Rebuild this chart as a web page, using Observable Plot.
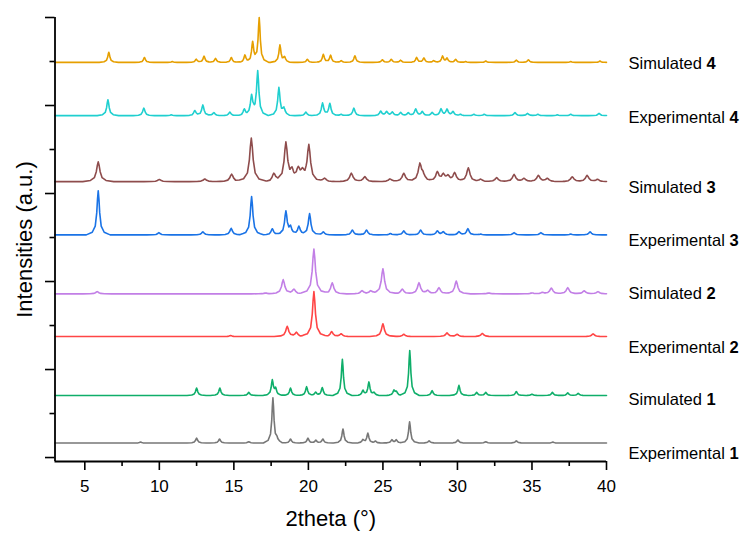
<!DOCTYPE html>
<html>
<head>
<meta charset="utf-8">
<script src="https://cdn.jsdelivr.net/npm/d3@7"></script>
<script src="https://cdn.jsdelivr.net/npm/@observablehq/plot@0.6"></script>
<style>
  html, body { margin: 0; padding: 0; background: #fff; }
  #chart svg { display: block; }
</style>
</head>
<body>
<div id="chart"></div>
<script>
// Peak lists: [2θ (°), relative intensity]
const exp1Peaks = [[8.74,2],[12.5,11],[14.04,9],[16.0,3],[17.62,102],[17.9,6],[18.8,9],[19.97,11],[20.5,6],[20.97,9],[22.32,32],[23.66,7],[23.99,22],[24.5,4],[25.6,7],[25.9,7],[26.79,48],[28.1,5],[30.03,7],[31.9,3],[33.95,5],[36.4,2]];
const sim1Peaks = [[12.5,17],[14.06,17],[16.0,7],[17.58,34],[17.8,14],[18.8,17],[19.88,20],[20.49,7],[20.93,18],[22.28,82],[23.66,11],[24.06,30],[24.4,6],[25.74,11],[25.9,8],[26.8,102],[28.3,11],[30.1,23],[31.29,7],[31.9,7],[33.95,9],[35.0,3],[36.37,7],[37.4,6],[38.1,5]];
const exp2Peaks = [[14.78,2],[18.58,23],[19.2,9],[20.37,102],[21.56,11],[22.2,6],[25.0,29],[26.4,5],[29.3,8],[29.98,5],[31.67,7],[39.1,6]];
const sim2Peaks = [[5.83,5],[17.13,2],[18.31,32],[19.03,10],[20.37,102],[21.6,25],[23.6,7],[24.17,6],[25.0,57],[26.3,11],[27.42,25],[28.0,7],[28.76,14],[29.92,29],[32.1,2],[35.0,2],[35.7,3],[36.3,13],[37.4,14],[38.5,7],[39.43,5]];
const exp3Peaks = [[5.9,100],[9.97,5],[12.92,7],[14.82,15],[16.19,87],[17.58,14],[18.49,53],[18.8,15],[19.36,19],[20.08,48],[21.0,7],[22.95,11],[23.9,11],[25.5,3],[26.4,9],[27.53,11],[28.65,9],[29.05,7],[30.1,7],[30.7,14],[31.56,2],[33.8,5],[35.6,5],[37.6,2],[38.9,7]];
const sim3Peaks = [[5.9,45],[10.0,5],[13.05,6],[14.85,17],[16.17,99],[17.68,17],[18.49,87],[18.9,20],[19.32,24],[19.59,18],[20.03,82],[21.09,8],[22.88,19],[23.79,11],[25.47,6],[26.4,19],[27.48,39],[27.7,12],[28.65,21],[29.05,14],[29.36,11],[29.81,19],[30.73,31],[31.56,5],[32.63,9],[33.8,16],[34.46,7],[35.43,14],[36.03,7],[37.7,11],[38.7,14],[39.4,5]];
const exp4Peaks = [[6.55,36],[8.96,17],[10.8,2],[12.38,11],[12.92,24],[13.66,7],[14.73,8],[15.7,14],[16.19,43],[16.6,100],[18.02,63],[18.36,15],[19.83,8],[20.95,28],[21.44,27],[22.2,3],[23.05,17],[24.85,10],[25.25,9],[25.63,8],[26.19,7],[26.7,6],[27.2,15],[27.64,9],[28.3,7],[28.9,15],[29.3,14],[29.7,9],[30.2,3],[31.1,3],[31.8,3],[33.86,7],[34.7,5],[35.4,3],[36.7,2],[37.6,3],[39.5,5]];
const sim4Peaks = [[6.61,23],[9.0,11],[10.87,2],[12.47,7],[13.0,14],[13.77,9],[14.83,11],[15.74,16],[16.26,44],[16.7,100],[18.09,39],[18.4,11],[19.93,7],[21.0,18],[21.49,16],[22.2,4],[23.12,15],[24.96,6],[25.56,7],[26.19,5],[27.26,11],[27.75,10],[28.4,4],[29.0,14],[29.3,9],[29.88,7],[30.55,2],[31.9,3],[33.95,5],[34.76,6],[37.6,2],[39.56,3]];

// Pattern names, compound numbers and stacking offsets (intensity units)
const traceNames   = ["Experimental", "Simulated", "Experimental", "Simulated", "Experimental", "Simulated", "Experimental", "Simulated"];
const traceNumbers = ["1", "1", "2", "2", "3", "3", "4", "4"];
const traceOffsets = [33, 141, 275, 372, 506, 627, 777, 898];
const tracePeaks   = [exp1Peaks, sim1Peaks, exp2Peaks, sim2Peaks, exp3Peaks, sim3Peaks, exp4Peaks, sim4Peaks];

// Axis ticks
const xTicks = [5, 10, 15, 20, 25, 30, 35, 40];
const xMinorTicks = [7.5, 12.5, 17.5, 22.5, 27.5, 32.5, 37.5];
const yTicks = [0, 200, 400, 600, 800, 1000];
const yMinorTicks = [100, 300, 500, 700, 900];

// Styling
const colors = ["#777777", "#0fae6a", "#ff4545", "#c27fe6", "#1a73e6", "#8e4c4c", "#1fcfcf", "#e69f00"];
const halfWidths = [0.08, 0.08, 0.11, 0.12, 0.1, 0.13, 0.09, 0.08]; // peak half width (°)
const labelNudge = [11, 4, 11, 0, 6, 6, 2, 1];                        // px below baseline
const font = "Arial, 'Liberation Sans', Helvetica, sans-serif";

// Piecewise-linear peak profile: [offset in half widths, fraction of peak height]
const PROFILE = [[-8,0],[-4,0.06],[-2,0.2],[-1,0.5],[-0.5,0.8],[0,1],[0.5,0.8],[1,0.5],[2,0.2],[4,0.06],[8,0]];
function profileAt(u) {
  if (u <= PROFILE[0][0] || u >= PROFILE[PROFILE.length - 1][0]) return 0;
  for (let k = 1; k < PROFILE.length; k++) {
    if (u <= PROFILE[k][0]) {
      const [u0, f0] = PROFILE[k - 1], [u1, f1] = PROFILE[k];
      return f0 + (f1 - f0) * (u - u0) / (u1 - u0);
    }
  }
  return 0;
}
function patternVertices(peaks, w, offset) {
  const xs = new Set([3, 40]);
  for (const [p] of peaks) for (const [u] of PROFILE) {
    const x = +(p + u * w).toFixed(4);
    if (x >= 3 && x <= 40) xs.add(x);
  }
  return [...xs].sort((a, b) => a - b)
    .map(x => ({x, y: offset + d3.sum(peaks, ([p, h]) => h * profileAt((x - p) / w))}));
}

const labels = traceNames.map((name, i) => ({name, num: traceNumbers[i], y: traceOffsets[i], nudge: labelNudge[i]}));

const chart = Plot.plot({
  width: 755,
  height: 545,
  marginLeft: 54.5,
  marginRight: 149,
  marginTop: 17,
  marginBottom: 84,
  style: {fontFamily: font, background: "#fff", color: "#000"},
  x: {domain: [3, 40]},
  y: {domain: [-9, 1000]},
  marks: [
    ...tracePeaks.map((peaks, i) =>
      Plot.line(patternVertices(peaks, halfWidths[i], traceOffsets[i]), {
        x: "x", y: "y", stroke: colors[i], strokeWidth: 1.6, strokeLinejoin: "round"
      })
    ),
    Plot.ruleX([3], {stroke: "#000", strokeWidth: 1.8}),
    Plot.ruleY([-9], {stroke: "#000", strokeWidth: 1.8}),
    Plot.axisX({ticks: xTicks, tickSize: 9, tickPadding: 9, fontSize: 17, label: null, strokeWidth: 1.6}),
    Plot.axisX({ticks: xMinorTicks, tickSize: 5, tickFormat: () => "", label: null, strokeWidth: 1.6}),
    Plot.axisY({ticks: yTicks, tickSize: 9.5, tickFormat: () => "", label: null, strokeWidth: 1.6}),
    Plot.axisY({ticks: yMinorTicks, tickSize: 5, tickFormat: () => "", label: null, strokeWidth: 1.6}),
    Plot.text(labels, {
      x: 40, y: "y", text: d => d.name, dx: 22,
      textAnchor: "start", fontSize: 16.5, fill: "#000", className: "trace-label"
    }),
    Plot.text(["2theta (°)"], {
      text: d => d, frameAnchor: "bottom", textAnchor: "middle", lineAnchor: "middle",
      dy: 57, fontSize: 22, fill: "#000"
    }),
    Plot.text(["Intensities (a.u.)"], {
      text: d => d, frameAnchor: "left", textAnchor: "middle", lineAnchor: "middle",
      rotate: -90, dx: -30, fontSize: 22, fill: "#000"
    })
  ]
});

// Compound numbers in bold after each pattern name, nudged below the baseline
d3.select(chart).selectAll("g.trace-label text").each(function (i) {
  const t = d3.select(this);
  t.attr("dy", (+labels[i].nudge) + "px");
  t.append("tspan").attr("font-weight", "bold").text(" " + labels[i].num);
});

document.getElementById("chart").appendChild(chart);
</script>
</body>
</html>
